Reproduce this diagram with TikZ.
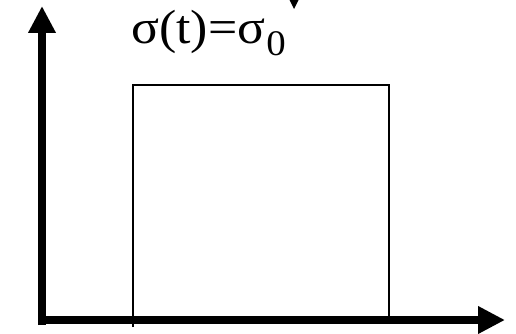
\documentclass[tikz,border=0pt]{standalone}
\usepackage{fontspec}
\setmainfont{Liberation Serif}
\usetikzlibrary{arrows.meta}

\begin{document}
\begin{tikzpicture}[
    x=1pt, y=-1pt,
    axis/.style={line width=8pt, -{Triangle[length=27pt, width=26pt]}},
    pulse/.style={line width=2pt},
    formula/.style={font=\fontsize{48}{50}\selectfont, inner sep=0pt}
]
\useasboundingbox (0,0) rectangle (516,334);

% Axes
\coordinate (origin) at (42,320);
\coordinate (ytip) at (42,6);
\coordinate (xstart) at (38,320);
\coordinate (xtip) at (505,320);
\draw[axis] (42,325) -- (ytip);
\draw[axis] (xstart) -- (xtip);

% Rectangular pulse
\coordinate (pulse start) at (133,327);
\coordinate (pulse end) at (389,320);
\draw[pulse] (pulse start) -- (133,85) -- (389,85) -- (pulse end);

% Label
\node[formula, anchor=base west, xscale=1.08, transform shape] (label) at (131,44)
    {σ(t)=σ\kern1pt\raisebox{-12pt}{\fontsize{36}{36}\selectfont 0}};

% Arrow fragment at the top edge
\fill (289,-1) -- (299,-1) -- (294,9) -- cycle;

\end{tikzpicture}
\end{document}
